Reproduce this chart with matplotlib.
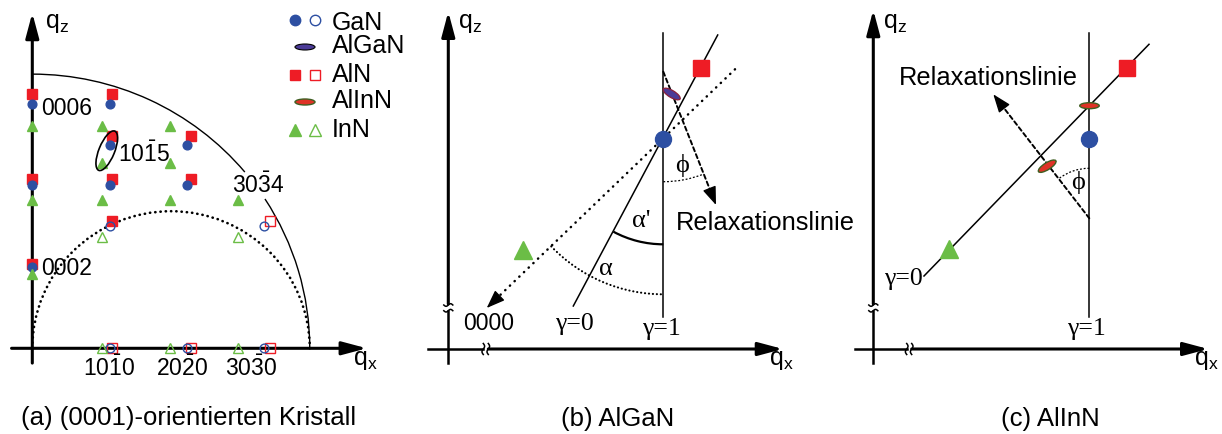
"""
Reziproker Raum: Gitterpunkte der Nitride und Relaxationslinien für AlGaN / AlInN.
"""
import matplotlib
matplotlib.use("Agg")
import matplotlib.pyplot as plt
import numpy as np
from matplotlib.patches import Arc, Ellipse

W, H = 1222, 434

plt.rcParams["font.family"] = ["Liberation Sans", "DejaVu Sans"]
plt.rcParams["mathtext.fontset"] = "custom"
plt.rcParams["mathtext.rm"] = "Liberation Sans"
plt.rcParams["mathtext.it"] = "Liberation Sans:italic"
plt.rcParams["mathtext.bf"] = "Liberation Sans:bold"
SERIF = ["Liberation Serif", "DejaVu Serif"]

BLUE = "#2d4fa2"
RED = "#ee1c25"
GREEN = "#6bbd46"
ALGAN_FACE = "#4b3b97"
ALINN_FACE = "#df3226"
ALINN_EDGE = "#3f5f22"

# (a) Gitterpunkte in 1/Å  (q_x, q_z)
GAN_FILLED_QX = [0, 0, 0, 2.275, 2.275, 2.275, 4.550, 4.550]
GAN_FILLED_QZ = [2.424, 4.847, 7.271, 4.847, 6.059, 7.271, 4.847, 6.059]
GAN_OPEN_QX = [2.275, 6.825, 2.275, 4.550, 6.825]
GAN_OPEN_QZ = [3.635, 3.635, 0, 0, 0]
ALN_FILLED_QX = [0, 0, 0, 2.331, 2.331, 2.331, 2.331, 4.663, 4.663]
ALN_FILLED_QZ = [2.522, 5.045, 7.567, 3.784, 5.045, 6.306, 7.567, 5.045, 6.306]
ALN_OPEN_QX = [6.994, 2.331, 4.663, 6.994]
ALN_OPEN_QZ = [3.784, 0, 0, 0]
INN_FILLED_QX = [0, 0, 0, 2.04, 2.04, 2.04, 4.04, 4.04, 4.04, 6.06]
INN_FILLED_QZ = [2.203, 4.407, 6.610, 4.407, 5.509, 6.610, 4.407, 5.509, 6.610, 4.407]
INN_OPEN_QX = [2.04, 6.06, 2.04, 4.04, 6.06]
INN_OPEN_QZ = [3.305, 3.305, 0, 0, 0]
K_CU = 4.08          # |k| für Cu K-alpha1 in 1/Å
AREA_1015 = (2.19, 5.88)   # Bereich der Mischkristalle um 10-15

# (b) AlGaN, willkürliche Einheiten
B_GAN = (21.5, 20.97)
B_ALN = (25.24, 28.07)
B_INN = (7.44, 9.90)
B_ALGAN = (22.34, 25.50)
B_ALGAN_TILT = -31
B_GAMMA0_X = [12.50, 26.94]
B_GAMMA0_Y = [4.30, 31.40]
B_ORIGIN_X = [28.67, 3.84]
B_ORIGIN_Y = [27.97, 4.10]
B_RELAX_X = [21.50, 26.77]
B_RELAX_Y = [27.73, 14.40]

# (c) AlInN, willkürliche Einheiten
C_GAN = (21.6, 20.97)
C_ALN = (25.34, 28.07)
C_INN = (7.57, 9.97)
C_ALINN_STRAINED = (21.62, 24.33)
C_ALINN_PARTIAL = (17.39, 18.28)
C_ALINN_TILT = 32
C_GAMMA0_X = [5.07, 27.57]
C_GAMMA0_Y = [7.30, 30.47]
C_RELAX_X = [21.60, 12.00]
C_RELAX_Y = [13.07, 25.47]

fig = plt.figure(figsize=(W / 100, H / 100), dpi=100)


def strip_axes(left, right, x0, y0, sx, sy):
    ax = fig.add_axes([left / W, 0, (right - left) / W, 1])
    ax.set_xlim((left - x0) / sx, (right - x0) / sx)
    ax.set_ylim((y0 - H) / sy, y0 / sy)
    ax.set_axis_off()
    ax.patch.set_visible(False)
    return ax


def label(x, y, s, **kw):
    kw.setdefault("va", "baseline")
    kw.setdefault("fontsize", 18)
    fig.text(x / W, 1 - y / H, s, **kw)


def axis_arrow(ax, start, tip, lw=2.2):
    ax.annotate("", xy=tip, xytext=start,
                arrowprops=dict(arrowstyle="-|>,head_length=0.75,head_width=0.2",
                                mutation_scale=20, lw=lw, color="black",
                                shrinkA=0, shrinkB=0))


def line_with_head(ax, xs, ys, ls, lw, back=1.2):
    xs, ys = np.asarray(xs, float), np.asarray(ys, float)
    d = np.array([xs[1] - xs[0], ys[1] - ys[0]])
    d /= np.hypot(*d)
    tip = np.array([xs[1], ys[1]])
    base = tip - d * back
    ax.plot([xs[0], base[0]], [ys[0], base[1]], color="black", lw=lw, ls=ls,
            dash_capstyle="round")
    ax.annotate("", xy=tip, xytext=base,
                arrowprops=dict(arrowstyle="-|>,head_length=0.8,head_width=0.3",
                                mutation_scale=14, lw=1.0, color="black",
                                shrinkA=0, shrinkB=0))


def broken_axes(ax, xleft, xbreak, xtip, ybot, ybreak, ytip):
    t = np.linspace(-1, 1, 40)
    # q_z
    ax.plot([0, 0], [ybot, ybreak - 0.57], color="black", lw=1.8)
    axis_arrow(ax, (0, ybreak + 0.1), (0, ytip))
    for yb in (ybreak, ybreak - 0.57):
        ax.plot(0.45 * t, yb + 0.13 * np.sin(np.pi * t), color="black", lw=1.1)
    # q_x
    ax.plot([xleft, xbreak], [0, 0], color="black", lw=1.8)
    axis_arrow(ax, (xbreak + 0.5, 0), (xtip, 0))
    for xb in (xbreak, xbreak + 0.5):
        ax.plot(xb + 0.13 * np.sin(np.pi * t), 0.55 * t, color="black", lw=1.1)


def angle_of(p, q):
    return np.degrees(np.arctan2(q[1] - p[1], q[0] - p[0]))


# ---------------- (a) (0001)-orientierter Kristall ----------------
ax_a = strip_axes(0, 420, 32.3, 348.3, 34.0, 33.6)
axis_arrow(ax_a, (0, -0.44), (0, 9.98))
axis_arrow(ax_a, (-0.61, 0), (9.84, 0))
for t1, t2 in [(0, 33), (40, 90)]:
    ax_a.add_patch(Arc((0, 0), 4 * K_CU, 4 * K_CU, theta1=t1, theta2=t2,
                       lw=1.0, color="black"))
ax_a.add_patch(Arc((K_CU, 0), 2 * K_CU, 2 * K_CU, theta1=0, theta2=180,
                   lw=1.9, ls=(0, (0.1, 1.9)), capstyle="round", color="black"))

mk = dict(ls="none", zorder=4, clip_on=False)
ax_a.plot(ALN_FILLED_QX, ALN_FILLED_QZ, "s", ms=6.5, mfc=RED, mec=RED, **mk)
ax_a.plot(ALN_OPEN_QX, ALN_OPEN_QZ, "s", ms=6.5, mfc="none", mec=RED, mew=1.0, **mk)
ax_a.plot(GAN_FILLED_QX, GAN_FILLED_QZ, "o", ms=6.3, mfc=BLUE, mec=BLUE, **mk)
ax_a.plot(GAN_OPEN_QX, GAN_OPEN_QZ, "o", ms=6.3, mfc="none", mec=BLUE, mew=1.0, **mk)
ax_a.plot(INN_FILLED_QX, INN_FILLED_QZ, "^", ms=6.5, mfc=GREEN, mec=GREEN, **mk)
ax_a.plot(INN_OPEN_QX, INN_OPEN_QZ, "^", ms=6.5, mfc="none", mec=GREEN, mew=1.0, **mk)
ax_a.add_patch(Ellipse(AREA_1015, 1.26, 0.46, angle=68, fc="none", ec="black",
                       lw=1.2, zorder=5))

# Legende (Pixelkoordinaten)
ax_key = fig.add_axes([0, 0, 1, 1])
ax_key.set_xlim(0, W)
ax_key.set_ylim(H, 0)
ax_key.set_axis_off()
ax_key.patch.set_visible(False)
ax_key.plot([295], [20], "o", ms=7.5, mfc=BLUE, mec=BLUE)
ax_key.plot([315], [20], "o", ms=7.5, mfc="none", mec=BLUE, mew=1.0)
ax_key.add_patch(Ellipse((305, 47), 20, 6, fc=ALGAN_FACE, ec="black", lw=0.8))
ax_key.plot([295], [75], "s", ms=7.8, mfc=RED, mec=RED)
ax_key.plot([315], [75], "s", ms=7.8, mfc="none", mec=RED, mew=1.0)
ax_key.add_patch(Ellipse((305, 102), 20, 6, fc=ALINN_FACE, ec=ALINN_EDGE, lw=1.0))
ax_key.plot([295], [130], "^", ms=8, mfc=GREEN, mec=GREEN)
ax_key.plot([315], [130], "^", ms=8, mfc="none", mec=GREEN, mew=1.0)
for y, s in [(30, "GaN"), (53.3, "AlGaN"), (81.7, "AlN"), (108.3, "AlInN"), (136.7, "InN")]:
    label(332, y, s)

label(45, 28, r"$\mathrm{q}_\mathrm{z}$")
label(352.7, 365, r"$\mathrm{q}_\mathrm{x}$")
label(40.7, 115, "0006", fontsize=16.5)
label(40.7, 275, "0002", fontsize=16.5)
label(118.3, 161.7, r"$10\bar{1}5$", fontsize=16.5)
label(232.3, 193.3, r"$30\bar{3}4$", fontsize=16.5)
for x, s in [(109.3, r"$10\bar{1}0$"), (182.5, r"$20\bar{2}0$"), (250.8, r"$30\bar{3}0$")]:
    label(x, 376, s, fontsize=16.5, ha="center")
label(20.7, 425, "(a) (0001)-orientierten Kristall", fontsize=18.5)

# ---------------- (b) AlGaN ----------------
ax_b = strip_axes(420, 835, 448.3, 349, 10, 10)
broken_axes(ax_b, -2.03, 3.5, 33.47, -1.4, 4.4, 33.73)
ax_b.plot([B_GAN[0]] * 2, [3.2, 31.6], color="black", lw=1.1)
ax_b.plot(B_GAMMA0_X, B_GAMMA0_Y, color="black", lw=1.1)
line_with_head(ax_b, B_ORIGIN_X, B_ORIGIN_Y, ls=(0, (0.1, 2.5)), lw=1.8, back=1.3)
line_with_head(ax_b, B_RELAX_X, B_RELAX_Y, ls=(0, (2.2, 1.6)), lw=1.4)

a_gamma0 = angle_of(B_GAN, (B_GAMMA0_X[0], B_GAMMA0_Y[0]))
a_origin = angle_of(B_GAN, (B_ORIGIN_X[1], B_ORIGIN_Y[1]))
a_relax_b = angle_of((B_RELAX_X[0], B_RELAX_Y[0]), (B_RELAX_X[1], B_RELAX_Y[1]))
ax_b.add_patch(Arc(B_GAN, 21, 21, theta1=a_gamma0, theta2=-90, lw=1.6, color="black"))
ax_b.add_patch(Arc(B_GAN, 31, 31, theta1=a_origin, theta2=-90, lw=1.5,
                   ls=(0, (0.1, 1.8)), capstyle="round", color="black"))
ax_b.add_patch(Arc((B_RELAX_X[0], B_RELAX_Y[0]), 22, 22, theta1=-90, theta2=a_relax_b,
                   lw=0.9, ls=(0, (1.5, 1.5)), color="black"))

ax_b.plot(*B_ALN, "s", ms=11.5, mfc=RED, mec=RED, zorder=4)
ax_b.plot(*B_GAN, "o", ms=11.5, mfc=BLUE, mec=BLUE, zorder=4)
ax_b.plot(*B_INN, "^", ms=12.5, mfc=GREEN, mec=GREEN, zorder=4)
ax_b.add_patch(Ellipse(B_ALGAN, 1.95, 0.7, angle=B_ALGAN_TILT, fc=ALGAN_FACE,
                       ec="#8a1f3a", lw=0.9, zorder=5))

label(458, 28, r"$\mathrm{q}_\mathrm{z}$")
label(769, 365, r"$\mathrm{q}_\mathrm{x}$")
label(462.7, 330, "0000", fontsize=16.5)
label(555, 330, "γ=0", family=SERIF, fontsize=18.5)
label(641.7, 335, "γ=1", family=SERIF, fontsize=18.5)
label(631.7, 226.7, "α'", family=SERIF, fontsize=19)
label(599, 275, "α", family=SERIF, fontsize=19)
label(681.7, 165.7, "ϕ", family=SERIF, fontsize=19, ha="center", va="center")
label(676, 230, "Relaxationslinie", fontsize=18.4)
label(618, 426, "(b) AlGaN", fontsize=18.5, ha="center")

# ---------------- (c) AlInN ----------------
ax_c = strip_axes(835, 1222, 873.3, 349, 10, 10)
broken_axes(ax_c, -1.83, 3.34, 33.5, -1.4, 4.4, 33.9)
ax_c.plot([C_GAN[0]] * 2, [3.2, 31.6], color="black", lw=1.1)
ax_c.plot(C_GAMMA0_X, C_GAMMA0_Y, color="black", lw=1.1)
line_with_head(ax_c, C_RELAX_X, C_RELAX_Y, ls=(0, (2.2, 1.6)), lw=1.4)
a_relax_c = angle_of((C_RELAX_X[0], C_RELAX_Y[0]), (C_RELAX_X[1], C_RELAX_Y[1]))
ax_c.add_patch(Arc((C_RELAX_X[0], C_RELAX_Y[0]), 10, 10, theta1=90, theta2=a_relax_c,
                   lw=0.9, ls=(0, (1.5, 1.5)), color="black"))

ax_c.plot(*C_ALN, "s", ms=11.5, mfc=RED, mec=RED, zorder=4)
ax_c.plot(*C_GAN, "o", ms=11.5, mfc=BLUE, mec=BLUE, zorder=4)
ax_c.plot(*C_INN, "^", ms=12.5, mfc=GREEN, mec=GREEN, zorder=4)
ax_c.add_patch(Ellipse(C_ALINN_STRAINED, 1.95, 0.6, angle=0, fc=ALINN_FACE,
                       ec=ALINN_EDGE, lw=1.0, zorder=5))
ax_c.add_patch(Ellipse(C_ALINN_PARTIAL, 2.05, 0.7, angle=C_ALINN_TILT, fc=ALINN_FACE,
                       ec=ALINN_EDGE, lw=1.0, zorder=5))

label(883.3, 28, r"$\mathrm{q}_\mathrm{z}$")
label(1194.3, 365, r"$\mathrm{q}_\mathrm{x}$")
label(899.3, 85, "Relaxationslinie", fontsize=18.4)
label(922.7, 285, "γ=0", family=SERIF, fontsize=18.5, ha="right")
label(1067.3, 335, "γ=1", family=SERIF, fontsize=18.5)
label(1078, 182.7, "ϕ", family=SERIF, fontsize=19, ha="center", va="center")
label(1050, 426, "(c) AlInN", fontsize=18.5, ha="center")

fig.savefig("out.png", dpi=100)
